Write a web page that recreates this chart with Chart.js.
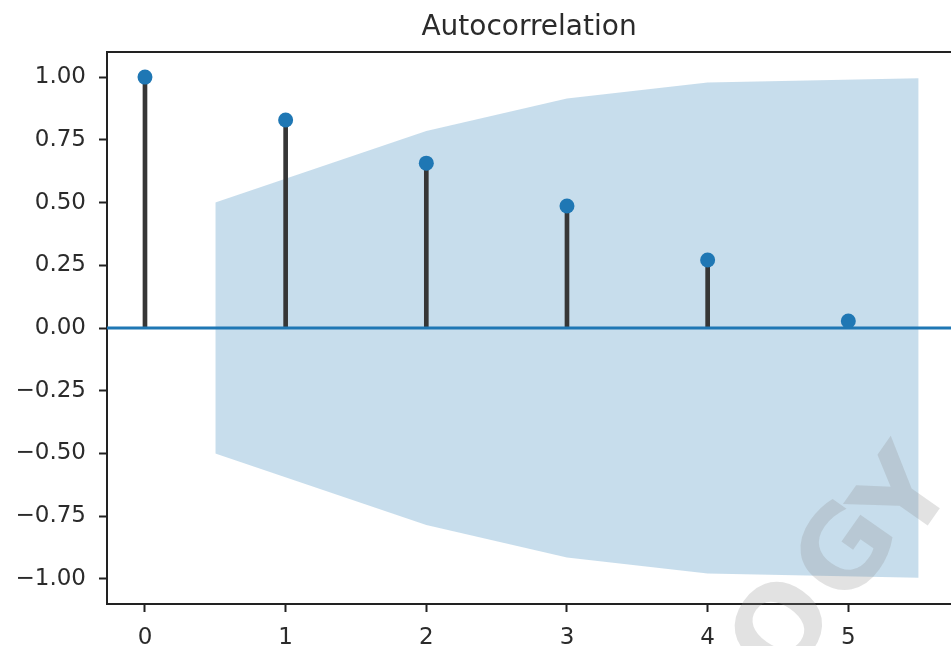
<!DOCTYPE html>
<html>
<head>
<meta charset="utf-8">
<script src="https://cdn.jsdelivr.net/npm/chart.js@4.4.0/dist/chart.umd.min.js"></script>
<style>
  html, body { margin: 0; padding: 0; background: #fff; }
  canvas { display: block; }
</style>
</head>
<body>
<canvas id="acfChart" width="951" height="646"></canvas>
<script>
// autocorrelation per lag
const lags = [0, 1, 2, 3, 4, 5];
const acfValues = [1.0, 0.829, 0.657, 0.486, 0.271, 0.028];

// confidence band (statsmodels shifts first/last x by half a lag)
const bandLags = [0.5, 2, 3, 4, 5.5];
const bandUpper = [0.50, 0.785, 0.915, 0.978, 0.995];
const bandLower = [-0.50, -0.785, -0.915, -0.978, -0.995];

const xTicks = [0, 1, 2, 3, 4, 5];
const yTicks = [-1.0, -0.75, -0.5, -0.25, 0.0, 0.25, 0.5, 0.75, 1.0];
const xRange = [-0.27, 5.73];
const yRange = [-1.1, 1.1];

const FONT = "'DejaVu Sans', sans-serif";
const TEXT = '#2b2b2b';
const BLUE = '#1f77b4';

function fmtY(v) {
  if (Math.abs(v) < 1e-9) return '0.00';
  return v < 0 ? '\u2212' + Math.abs(v).toFixed(2) : v.toFixed(2);
}

// top spine (matplotlib box) and the faint watermark
const extras = {
  id: 'extras',
  beforeDraw(chart) {
    const ctx = chart.ctx;
    ctx.save();
    ctx.fillStyle = '#fff';
    ctx.fillRect(0, 0, chart.width, chart.height);
    ctx.restore();
  },
  afterDraw(chart) {
    const { ctx, chartArea } = chart;
    ctx.save();
    ctx.strokeStyle = '#222';
    ctx.lineWidth = 2;
    ctx.beginPath();
    ctx.moveTo(chartArea.left - 1, chartArea.top);
    ctx.lineTo(chart.width, chartArea.top);
    ctx.stroke();

    // watermark letters
    ctx.fillStyle = 'rgba(140,140,140,0.25)';
    ctx.font = 'bold 112px ' + FONT;
    ctx.textAlign = 'center';
    ctx.textBaseline = 'middle';
    const marks = [['O', 788, 632], ['G', 852, 555], ['Y', 910, 500]];
    for (const [ch, x, y] of marks) {
      ctx.save();
      ctx.translate(x, y);
      ctx.rotate(-55 * Math.PI / 180);
      ctx.fillText(ch, 0, 0);
      ctx.restore();
    }
    ctx.restore();
  }
};

new Chart(document.getElementById('acfChart'), {
  data: {
    datasets: [
      {
        type: 'scatter',
        data: lags.map((x, i) => ({ x: x, y: acfValues[i] })),
        pointRadius: 7.5,
        pointBackgroundColor: BLUE,
        pointBorderWidth: 0,
        order: 0
      },
      {
        type: 'line',
        data: xRange.map(x => ({ x: x, y: 0 })),
        borderColor: BLUE,
        borderWidth: 3,
        pointRadius: 0,
        fill: false,
        order: 1
      },
      {
        type: 'bar',
        data: lags.map((x, i) => ({ x: x, y: acfValues[i] })),
        backgroundColor: '#363636',
        barThickness: 4,
        order: 2
      },
      {
        type: 'line',
        data: bandLags.map((x, i) => ({ x: x, y: bandUpper[i] })),
        borderWidth: 0,
        pointRadius: 0,
        backgroundColor: 'rgba(31,119,180,0.25)',
        fill: '+1',
        order: 3
      },
      {
        type: 'line',
        data: bandLags.map((x, i) => ({ x: x, y: bandLower[i] })),
        borderWidth: 0,
        pointRadius: 0,
        fill: false,
        order: 4
      }
    ]
  },
  options: {
    responsive: false,
    animation: false,
    layout: { autoPadding: false, padding: 0 },
    plugins: {
      legend: { display: false },
      tooltip: { enabled: false },
      title: {
        display: true,
        text: 'Autocorrelation',
        fullSize: false,
        color: TEXT,
        font: { family: FONT, size: 28, weight: 'normal' },
        padding: { top: 11, bottom: 7.4 }
      }
    },
    scales: {
      x: {
        type: 'linear',
        offset: false,
        min: xRange[0],
        max: xRange[1],
        afterFit(scale) {
          scale.height = 42;
          scale.paddingLeft = 0;
          scale.paddingRight = 0;
        },
        afterBuildTicks(scale) { scale.ticks = xTicks.map(v => ({ value: v })); },
        grid: { offset: false, drawOnChartArea: false, drawTicks: true, tickLength: 8, tickColor: '#222', tickWidth: 2 },
        border: { display: true, color: '#222', width: 2 },
        ticks: {
          color: TEXT,
          font: { family: FONT, size: 23 },
          padding: 12,
          maxRotation: 0,
          callback: v => String(v)
        }
      },
      y: {
        type: 'linear',
        min: yRange[0],
        max: yRange[1],
        afterFit(scale) { scale.width = 107; },
        afterBuildTicks(scale) { scale.ticks = yTicks.map(v => ({ value: v })); },
        grid: { drawOnChartArea: false, drawTicks: true, tickLength: 8, tickColor: '#222', tickWidth: 2 },
        border: { display: true, color: '#222', width: 2 },
        ticks: {
          color: TEXT,
          font: { family: FONT, size: 23 },
          padding: 13,
          callback: v => fmtY(v)
        }
      }
    }
  },
  plugins: [extras]
});
</script>
</body>
</html>
